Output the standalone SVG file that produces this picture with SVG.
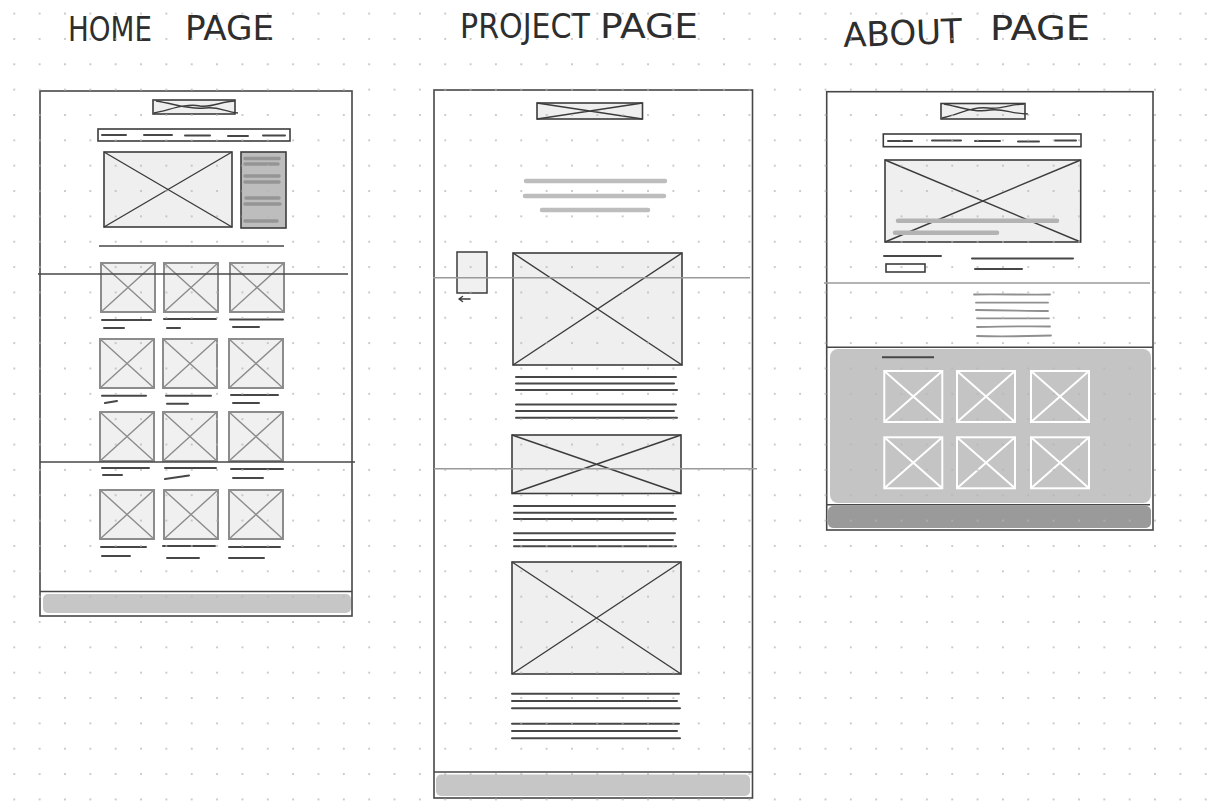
<svg xmlns="http://www.w3.org/2000/svg" width="1222" height="810" viewBox="0 0 1222 810">
  <style>
    .title { font-family: "Liberation Sans Narrow", "DejaVu Sans Condensed", "Liberation Sans", sans-serif; font-size: 34px; fill: #2e2e2e; }
    .frame { fill: none; stroke: #474747; stroke-width: 1.6; }
    .rule { stroke: #474747; stroke-width: 1.6; }
    .hair { stroke: #9a9a9a; stroke-width: 1.6; }
    .img { fill: #efefef; stroke: #3c3c3c; stroke-width: 1.6; }
    .imgx { stroke: #3c3c3c; stroke-width: 1.4; fill: none; }
    .thumb { fill: #f0f0f0; stroke: #8c8c8c; stroke-width: 2; }
    .thumbx { stroke: #8c8c8c; stroke-width: 1.4; fill: none; }
    .txt { stroke: #474747; stroke-width: 2; stroke-linecap: round; }
    .soft { stroke: #bdbdbd; stroke-width: 4.5; stroke-linecap: round; }
    .soft2 { stroke: #8f8f8f; stroke-width: 1.8; stroke-linecap: round; fill: none; }
    .wthumb { fill: none; stroke: #ffffff; stroke-width: 2; }
  </style>
  <defs>
    <pattern id="dots" x="1.6" y="0.9" width="25.35" height="25.35" patternUnits="userSpaceOnUse">
      <circle cx="12.675" cy="12.675" r="0.9" fill="#b4b4b4"/>
    </pattern>
    <g id="tile">
      <rect class="thumb" x="0" y="0" width="54" height="49"/>
      <path class="thumbx" d="M0 0 L54 49 M54 0 L0 49"/>
    </g>
    <g id="wtile">
      <rect class="wthumb" x="0" y="0" width="58" height="51"/>
      <path class="wthumb" d="M0 0 L58 51 M58 0 L0 51"/>
    </g>
  </defs>

  <rect width="1222" height="810" fill="#ffffff"/>

  <!-- page headings -->
  <g id="headings">
    <text class="title" x="68" y="41" textLength="84" lengthAdjust="spacingAndGlyphs">HOME</text>
    <text class="title" x="185" y="40" textLength="89" lengthAdjust="spacingAndGlyphs">PAGE</text>
    <text class="title" x="460" y="38" textLength="130" lengthAdjust="spacingAndGlyphs">PROJECT</text>
    <text class="title" x="600" y="38" textLength="98" lengthAdjust="spacingAndGlyphs">PAGE</text>
    <text class="title" x="843" y="45" textLength="119" lengthAdjust="spacingAndGlyphs" transform="rotate(-2 900 32)">ABOUT</text>
    <text class="title" x="990" y="40" textLength="100" lengthAdjust="spacingAndGlyphs">PAGE</text>
  </g>

  <!-- home page wireframe -->
  <g id="home-page">
    <rect class="frame" x="40" y="91" width="312" height="525"/>
    <!-- logo -->
    <rect x="153" y="100" width="82" height="14" fill="#efefef" stroke="#3c3c3c" stroke-width="1.6"/>
    <path class="imgx" d="M156 101 C175 104 190 110 205 108 C218 106 225 112 238 113 M154 113 C170 110 185 103 200 106 C212 108 222 101 235 101"/>
    <!-- nav -->
    <rect x="98" y="129" width="192" height="12" fill="none" stroke="#3c3c3c" stroke-width="1.6"/>
    <path class="txt" d="M102 135 H126 M144 135 H172 M185 135.5 H210 M228 136 H248 M263 135.5 H285"/>
    <!-- hero + sidebar -->
    <rect class="img" x="104" y="152" width="128" height="75"/>
    <path class="imgx" d="M104 152 L232 227 M232 152 L104 227" stroke="#666"/>
    <rect x="241" y="152" width="45" height="76" fill="#bdbdbd" stroke="#3c3c3c" stroke-width="1.6"/>
    <path d="M245 158.5 H279 M245 164 H278 M245 176 H279 M245 182 H279 M246 198 H279 M245 204 H280 M245 221 H277" stroke="#959595" stroke-width="3.5" stroke-linecap="round"/>
    <line class="rule" x1="99" y1="246" x2="284" y2="246"/>
    <!-- project tiles -->
    <use href="#tile" x="101" y="263"/><use href="#tile" x="164" y="263"/><use href="#tile" x="230" y="263"/>
    <use href="#tile" x="100" y="339"/><use href="#tile" x="163" y="339"/><use href="#tile" x="229" y="339"/>
    <use href="#tile" x="100" y="412"/><use href="#tile" x="163" y="412"/><use href="#tile" x="229" y="412"/>
    <use href="#tile" x="100" y="490"/><use href="#tile" x="164" y="490"/><use href="#tile" x="229" y="490"/>
    <!-- tile captions -->
    <path class="txt" d="M102 320 H151 M104 328 H124 M164 319 H216 M167 328 H180 M230 319.5 H283 M233 327 H259"/>
    <path class="txt" d="M102 395.7 H146 M105 403 L117 401 M166 395.7 H211 M167 403.7 H188 M231 395 H278 M233 403 H259"/>
    <path class="txt" d="M102 468 H149 M103 475 H122 M165 468 H216 M165 479 L189 475.5 M231 469 H283 M233 478 H263"/>
    <path class="txt" d="M101 547 H146 M102 556 H130 M163 546 H215 M167 558 H199 M229 547 H280 M229 558 H264"/>
    <!-- fold lines -->
    <line class="rule" x1="38" y1="274" x2="348" y2="274"/>
    <line class="rule" x1="40" y1="462" x2="355" y2="462"/>
    <!-- footer -->
    <line class="rule" x1="40" y1="591.5" x2="352" y2="591.5"/>
    <rect x="43" y="594" width="308" height="19" rx="5" fill="#c6c6c6"/>
  </g>

  <!-- project page wireframe -->
  <g id="project-page">
    <rect class="frame" x="434" y="90" width="318.5" height="708"/>
    <rect class="img" x="537" y="103" width="105.5" height="16"/>
    <path class="imgx" d="M537 103 L642.5 119 M642.5 103 L537 119"/>
    <path class="soft" d="M526 181 H665 M525 196 H664 M542 210 H648"/>
    <!-- side nav -->
    <rect x="457" y="252" width="30" height="41" fill="#f0f0f0" stroke="#3c3c3c" stroke-width="1.5"/>
    <path d="M459 299 H470 M459 299 L462.5 296.5 M459 299 L462.5 301.5" stroke="#3c3c3c" stroke-width="1.5" stroke-linecap="round" fill="none"/>
    <!-- images and text -->
    <rect class="img" x="513" y="253" width="169" height="112"/>
    <path class="imgx" d="M513 253 L682 365 M682 253 L513 365"/>
    <path class="txt" d="M516 377 H676 M516 383.5 H674 M516 390 H677 M516 404.5 H676 M516 411 H674 M516 417.7 H677"/>
    <rect class="img" x="512" y="435" width="169" height="58.5"/>
    <path class="imgx" d="M512 435 L681 493.5 M681 435 L512 493.5"/>
    <path class="txt" d="M514 506 H675 M514 512.7 H673 M514 519 H676 M514 533.3 H675 M514 540 H673 M514 546.3 H676"/>
    <rect class="img" x="512" y="562" width="169" height="112"/>
    <path class="imgx" d="M512 562 L681 674 M681 562 L512 674"/>
    <path class="txt" d="M512 693.7 H679 M512 701 H677 M512 708.3 H680 M512 723.7 H679 M512 731 H677 M512 738.3 H680"/>
    <!-- fold lines -->
    <line class="hair" x1="433" y1="277.7" x2="750" y2="277.7"/>
    <line class="hair" x1="434" y1="468.7" x2="757" y2="468.7"/>
    <!-- footer -->
    <line class="rule" x1="434" y1="772" x2="752.5" y2="772"/>
    <rect x="436" y="774.5" width="314" height="21.5" rx="5" fill="#c6c6c6"/>
  </g>

  <!-- about page wireframe -->
  <g id="about-page">
    <rect class="frame" x="826.7" y="91.7" width="326.3" height="438.3"/>
    <rect x="941" y="103.5" width="84" height="15.5" fill="#efefef" stroke="#3c3c3c" stroke-width="1.6"/>
    <path class="imgx" d="M944 104 C960 107 975 113 990 110 C1003 108 1012 114 1028 114 M942 118 C958 115 972 106 988 108 C1000 110 1010 104 1024 104"/>
    <rect x="883.3" y="134" width="197.7" height="12.7" fill="none" stroke="#3c3c3c" stroke-width="1.6"/>
    <path class="txt" d="M888 141 H912 M932 140.5 H961 M975 141 H1000 M1018 141.5 H1039 M1055 140.5 H1076"/>
    <rect class="img" x="885" y="160" width="195.7" height="82"/>
    <path class="imgx" d="M885 160 L1080.7 242 M1080.7 160 L885 242" stroke="#6a6a6a"/>
    <path d="M898 220.7 H1057 M895 232.7 H997" stroke="#b3b3b3" stroke-width="4.5" stroke-linecap="round"/>
    <path class="txt" d="M884 256 H941 M972 258.5 H1073 M975 269 H1022"/>
    <rect x="886" y="264" width="39" height="8" fill="none" stroke="#3c3c3c" stroke-width="1.6"/>
    <line class="hair" x1="824" y1="283" x2="1150" y2="283"/>
    <path class="soft2" d="M974 294.5 C1000 294 1030 295 1050 294.5 M976 302.7 H1048 M976 310 C1000 310 1030 311 1048 311 M977 318.3 H1049 M977 327 C1000 326.5 1030 326 1050 326.5 M977 336 C1005 337 1030 336 1051 335.5"/>
    <line class="rule" x1="826.7" y1="347.3" x2="1153" y2="347.3"/>
    <!-- featured work panel -->
    <rect x="830" y="349" width="321" height="154" rx="8" fill="#c4c4c4"/>
    <line x1="882" y1="357.3" x2="934" y2="357.3" stroke="#474747" stroke-width="2"/>
    <use href="#wtile" x="884.3" y="371"/><use href="#wtile" x="957" y="371"/><use href="#wtile" x="1031" y="371"/>
    <use href="#wtile" x="884.3" y="437.3"/><use href="#wtile" x="957" y="437.3"/><use href="#wtile" x="1031" y="437.3"/>
    <line class="rule" x1="826" y1="504.7" x2="1150" y2="504.7"/>
    <rect x="828" y="506" width="323" height="22" rx="5" fill="#9a9a9a"/>
  </g>

  <!-- dot grid -->
  <rect width="1222" height="810" fill="url(#dots)"/>
</svg>
